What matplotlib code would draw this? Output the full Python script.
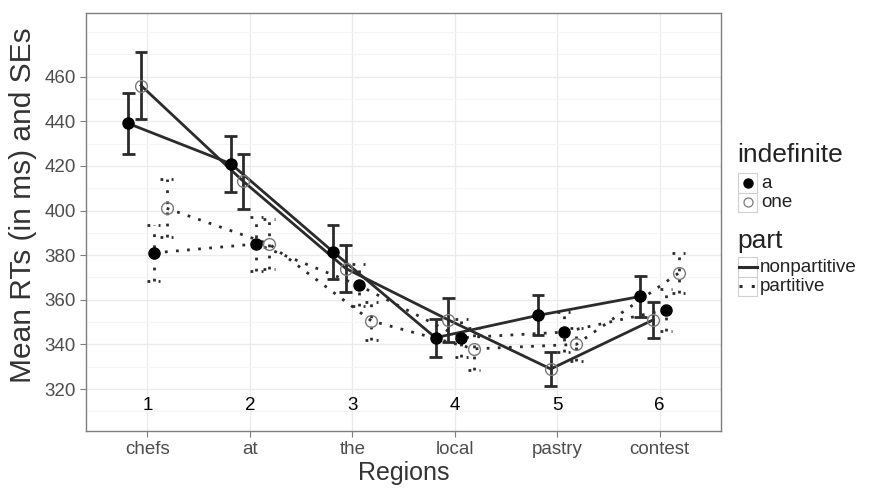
import numpy as np
import matplotlib
matplotlib.use('Agg')
import matplotlib.pyplot as plt
from matplotlib.patches import Rectangle

plt.rcParams['font.family'] = ['Liberation Sans', 'DejaVu Sans']

# Data
regions = ['chefs', 'at', 'the', 'local', 'pastry', 'contest']
region_numbers = ['1', '2', '3', '4', '5', '6']

a_nonpart = [439, 421, 381.5, 343, 353, 361.5]
a_nonpart_se = [13.5, 12.5, 12, 8.5, 9, 9]
one_nonpart = [456, 413, 374, 351, 329, 351]
one_nonpart_se = [15, 12.5, 10.5, 10, 7.5, 8]
a_part = [381, 385, 366.5, 343, 345.5, 355.5]
a_part_se = [12.5, 12, 9.5, 8.5, 9, 9.5]
one_part = [401, 385, 350.5, 338, 340, 372]
one_part_se = [13, 11, 8.5, 9.5, 7.5, 9]

yticks = [320, 340, 360, 380, 400, 420, 440, 460]

LINE = '#2b2b2b'
GRID = '#ebebeb'
TICK = '#4d4d4d'
OPEN = '#7a7a7a'

series = [
    # values, se, offset, filled, dotted
    (a_nonpart, a_nonpart_se, -0.1875, True, False),
    (one_nonpart, one_nonpart_se, -0.0625, False, False),
    (a_part, a_part_se, 0.0625, True, True),
    (one_part, one_part_se, 0.1875, False, True),
]

fig = plt.figure(figsize=(8.75, 4.91), dpi=100)
ax = fig.add_axes([86 / 875, 1 - 431 / 491, (721 - 86) / 875, (431 - 13) / 491])

x = np.arange(1, len(regions) + 1)
dot = (0, (1, 3))

for vals, se, off, filled, dotted in series:
    xs = x + off
    vals = np.array(vals)
    se = np.array(se)
    ls = dot if dotted else '-'
    lw = 2.0
    ax.plot(xs, vals, color=LINE, lw=lw, ls=ls, zorder=3)
    ax.vlines(xs, vals - se, vals + se, color=LINE, lw=lw, ls=ls, zorder=3)
    ax.hlines(vals - se, xs - 0.0625, xs + 0.0625, color=LINE, lw=lw, ls=ls, zorder=3)
    ax.hlines(vals + se, xs - 0.0625, xs + 0.0625, color=LINE, lw=lw, ls=ls, zorder=3)
    if filled:
        ax.plot(xs, vals, ls='none', marker='o', ms=8, mfc='black', mec='black', zorder=4)
    else:
        ax.plot(xs, vals, ls='none', marker='o', ms=8.5, mfc='none', mec=OPEN,
                mew=1.0, zorder=4)

for xi, lab in zip(x, region_numbers):
    ax.text(xi, 312.8, lab, ha='center', va='center', fontsize=13.5, color='black')

ax.set_xlim(0.4, 6.6)
ax.set_ylim(301.2, 488.5)
ax.set_xticks(x)
ax.set_xticklabels(regions)
ax.set_yticks(yticks)
ax.set_yticks(np.arange(310, 490, 10), minor=True)
ax.grid(True, which='major', color=GRID, lw=1.0, zorder=0)
ax.grid(True, which='minor', axis='y', color='#f5f5f5', lw=0.8, zorder=0)
ax.set_axisbelow(True)
ax.tick_params(axis='both', which='major', length=4, color='#7f7f7f', labelcolor=TICK,
               labelsize=13.5)
ax.tick_params(axis='y', which='minor', length=0)
for sp in ax.spines.values():
    sp.set_color('#7f7f7f')
    sp.set_linewidth(1.0)

ax.set_xlabel('Regions', fontsize=18, color='#333333', labelpad=2)
ax.set_ylabel('Mean RTs (in ms) and SEs', fontsize=21.5, color='#333333')
ax.yaxis.set_label_coords(-0.077, 0.54)

# Legend drawn by hand (ggplot style key boxes), in pixel coordinates
lax = fig.add_axes([0, 0, 1, 1], zorder=5)
lax.set_xlim(0, 875)
lax.set_ylim(491, 0)
lax.axis('off')


def key_box(y0):
    lax.add_patch(Rectangle((738, y0), 19, 19.5, facecolor='white', edgecolor='#d0d0d0', lw=0.8))


lax.text(737, 162, 'indefinite', fontsize=19, color='#222222', va='baseline')
for i, (lab, filled) in enumerate([('a', True), ('one', False)]):
    y0 = 173 + i * 19.5
    key_box(y0)
    if filled:
        lax.plot(747.5, y0 + 9.75, marker='o', ms=6.5, mfc='black', mec='black')
    else:
        lax.plot(747.5, y0 + 9.75, marker='o', ms=6.5, mfc='none', mec=OPEN, mew=0.9)
    lax.text(761, y0 + 10, lab, fontsize=13.5, color='#222222', va='center')

lax.text(737, 248, 'part', fontsize=19, color='#222222', va='baseline')
for i, (lab, dotted) in enumerate([('nonpartitive', False), ('partitive', True)]):
    y0 = 257 + i * 19.5
    key_box(y0)
    lax.plot([738.5, 756.5], [y0 + 9.75, y0 + 9.75], color=LINE, lw=2.2,
             ls=dot if dotted else '-')
    lax.text(760, y0 + 10, lab, fontsize=13.5, color='#222222', va='center')

fig.savefig('out.png', dpi=100)
